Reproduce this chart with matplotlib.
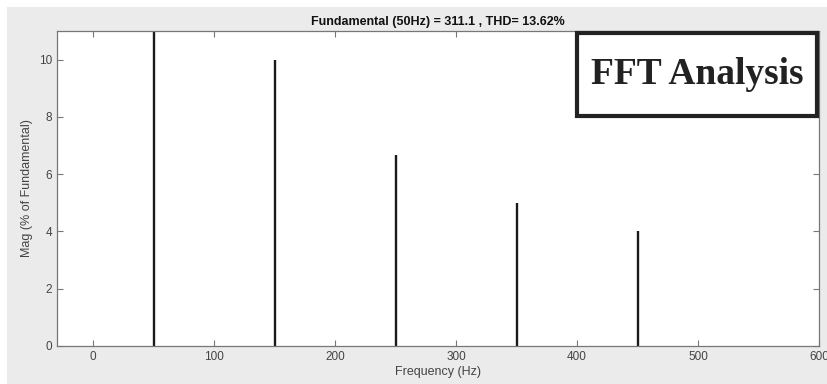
import matplotlib.pyplot as plt
from matplotlib.patches import Rectangle

# harmonic spectrum (% of fundamental)
freqs = [50, 150, 250, 350, 450]
mags = [100, 10, 6.667, 5, 4]
xticks = [0, 100, 200, 300, 400, 500, 600]
yticks = [0, 2, 4, 6, 8, 10]

plt.rcParams['font.family'] = ['Liberation Sans', 'DejaVu Sans']

fig = plt.figure(figsize=(8.27, 3.84), dpi=100, facecolor='white')
# gray matlab-like figure panel, white strip at left/top
fig.patches.append(Rectangle((7 / 827, 0), 1, 1 - 7 / 384, transform=fig.transFigure,
                             facecolor='#ebebeb', edgecolor='none', zorder=-10))

ax = fig.add_axes([57 / 827, 38 / 384, 762 / 827, 315 / 384])
ax.set_facecolor('white')
ax.vlines(freqs, 0, mags, colors='#1a1a1a', linewidth=1.7)

ax.set_xlim(-30, 600)
ax.set_ylim(0, 11)
ax.set_xticks(xticks)
ax.set_yticks(yticks)
ax.tick_params(direction='in', top=True, right=True, length=4, width=0.8,
               colors='#777777', labelcolor='#444444', labelsize=8.5)
for s in ax.spines.values():
    s.set_color('#777777')
    s.set_linewidth(0.9)

ax.set_title('Fundamental (50Hz) = 311.1 , THD= 13.62%', fontsize=9,
             fontweight='bold', color='#111111', pad=4)
ax.set_xlabel('Frequency (Hz)', fontsize=9, color='#444444', labelpad=2)
ax.set_ylabel('Mag (% of Fundamental)', fontsize=9, color='#444444', labelpad=4)

# label box in the upper right
ax.add_patch(Rectangle((0.683, 0.73), 0.315, 0.265, transform=ax.transAxes,
                       facecolor='white', edgecolor='#222222', linewidth=3,
                       clip_on=False, zorder=5))
ax.text(0.8405, 0.862, 'FFT Analysis', transform=ax.transAxes, ha='center', va='center',
        fontsize=27, fontweight='bold', family=['Liberation Serif'], color='#222222',
        zorder=6)

fig.savefig('out.png', dpi=100, facecolor=fig.get_facecolor())
